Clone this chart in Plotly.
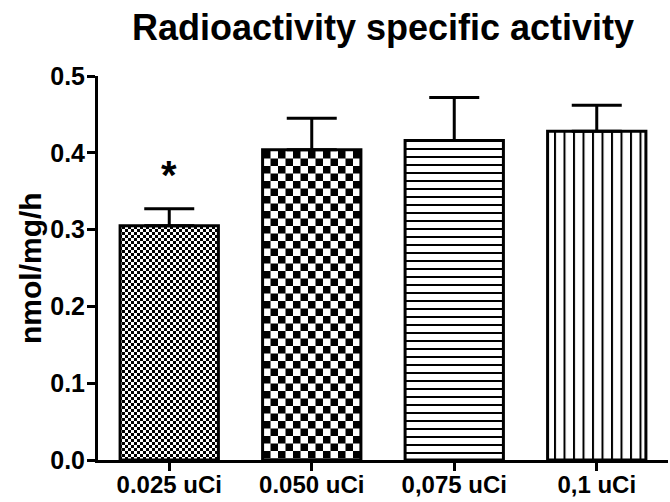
import plotly.graph_objects as go

categories = ["0.025 uCi", "0.050 uCi", "0,075 uCi", "0,1 uCi"]
means = [0.305, 0.404, 0.416, 0.428]
sem = [0.022, 0.041, 0.056, 0.034]
y_ticks = [0.0, 0.1, 0.2, 0.3, 0.4, 0.5]
y_ticklabels = ["0.0", "0.1", "0.2", "0.3", "0.4", "0.5"]
title = "Radioactivity specific activity"
y_title = "nmol/mg/h"
significance = ["*", "", "", ""]

def checker(c):
    s = 2 * c
    return f"M0,0H{c}V{c}H0Z M{c},{c}H{s}V{s}H{c}Z", s

p1, s1 = checker(3)
p2, s2 = checker(7.5)
patterns = [
    dict(path=p1, size=s1),
    dict(path=p2, size=s2),
    dict(path="M0,0H8V2H0Z", size=8),
    dict(path="M0,0H2V9.5H0Z", size=9.5),
]

fig = go.Figure()
for i, cat in enumerate(categories):
    pat = patterns[i]
    fig.add_trace(go.Bar(
        x=[i], y=[means[i]], width=0.69,
        marker=dict(
            color="white",
            line=dict(color="black", width=3),
            pattern=dict(path=pat["path"], size=pat["size"], solidity=0.5,
                         fgcolor="black", bgcolor="white", fillmode="overlay", fgopacity=1),
        ),
        error_y=dict(type="data", array=[sem[i]], arrayminus=[0], symmetric=False,
                     color="black", thickness=3, width=25),
        showlegend=False,
    ))
    if significance[i]:
        fig.add_annotation(x=i, y=means[i] + sem[i], text="<b>" + significance[i] + "</b>",
                           showarrow=False, yanchor="bottom", yshift=10,
                           font=dict(family="Liberation Sans", size=40, color="black"))

fig.add_annotation(x=0, xref="paper", y=0.5, yref="paper", xanchor="center", yanchor="middle",
                   xshift=-68, textangle=-90, showarrow=False,
                   text="<b>" + y_title + "</b>",
                   font=dict(family="Liberation Sans", size=30, color="black"))

fig.update_layout(
    width=670, height=502,
    margin=dict(l=98, r=2, t=76, b=42, autoexpand=False),
    paper_bgcolor="white", plot_bgcolor="white",
    font=dict(family="Liberation Sans", color="black"),
    title=dict(text="<b>" + title + "</b>", x=0.5, xref="paper", xanchor="center",
               y=0.945, yref="container", yanchor="middle",
               font=dict(family="Liberation Sans", size=36, color="black")),
    bargap=0.3,
)
fig.update_xaxes(
    range=[-0.5, 3.5], tickvals=list(range(len(categories))),
    ticktext=["<b>" + c + "</b>" for c in categories],
    showline=True, linewidth=3, linecolor="black",
    ticks="outside", ticklen=8, tickwidth=3, tickcolor="black",
    tickfont=dict(family="Liberation Sans", size=24, color="black"),
    ticklabelstandoff=-7,
    showgrid=False, zeroline=False, automargin=False,
)
fig.update_yaxes(
    range=[0, 0.5], tickvals=y_ticks, ticktext=["<b>" + t + "</b>" for t in y_ticklabels],
    showline=True, linewidth=3, linecolor="black",
    ticks="outside", ticklen=8, tickwidth=3, tickcolor="black",
    tickfont=dict(family="Liberation Sans", size=25, color="black"),
    ticklabelstandoff=-3,
    showgrid=False, zeroline=False, automargin=False,
)
fig.write_html("out.html")
